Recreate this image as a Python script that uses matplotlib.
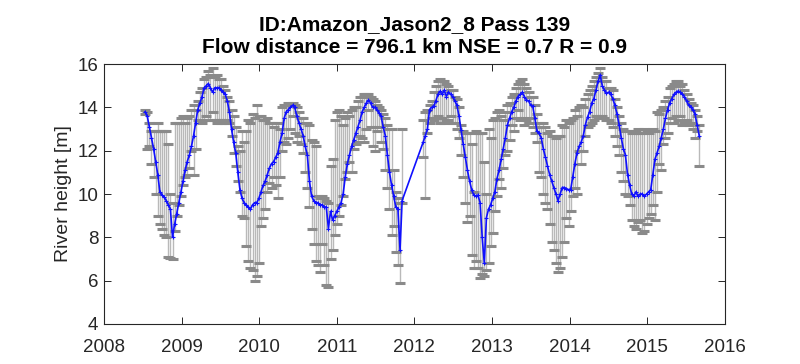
#!/usr/bin/env python3
"""Jason-2 virtual station time series with ensemble min/max error bars."""

import matplotlib
matplotlib.use('Agg')
import matplotlib.pyplot as plt
import numpy as np

# ---------------------------------------------------------------------------
# Data
# ---------------------------------------------------------------------------

# Jason-2 repeat cycles present at this station (gap end 2011 / early 2012)
cycles = list(range(1, 124)) + list(range(133, 265))
t_first = 2008.53          # decimal year of the first cycle
cycle_days = 9.9156        # Jason-2 repeat period

heights = [
    13.8, 13.6, 13.1, 12.6, 12.1, 11.5, 10.9, 10.1, 9.95, 9.85,
    9.7, 9.5, 9.3, 8.0, 8.6, 9.1, 9.6, 10.1, 10.6, 11.1,
    11.5, 11.8, 12.2, 12.7, 13.3, 13.9, 14.2, 14.5, 14.9, 15.0,
    15.1, 14.9, 14.7, 14.9, 14.9, 14.9, 14.8, 14.7, 14.6, 14.3,
    13.8, 13.0, 12.4, 11.9, 11.0, 10.2, 9.8, 9.6, 9.5, 9.4,
    9.3, 9.5, 9.6, 9.6, 9.8, 10.1, 10.4, 10.6, 10.9, 11.2,
    11.4, 11.5, 11.7, 11.9, 12.4, 12.8, 13.5, 13.8, 13.9, 14.0,
    14.1, 14.0, 13.6, 13.3, 13.0, 12.7, 12.2, 11.8, 10.6, 9.9,
    9.7, 9.6, 9.6, 9.5, 9.5, 9.4, 9.4, 8.4, 9.2, 8.8,
    9.0, 9.2, 9.4, 9.6, 10.0, 10.8, 11.4, 11.8, 12.2, 12.5,
    12.8, 13.1, 13.4, 13.8, 14.0, 14.2, 14.35, 14.2, 14.0, 14.0,
    13.9, 13.75, 13.6, 13.1, 12.7, 11.8, 11.0, 10.4, 9.9, 9.4,
    9.3, 7.4, 9.7,
    12.4, 12.7, 13.0, 13.9, 14.0, 14.05, 14.3, 14.6,
    14.75, 14.6, 14.8, 14.5, 14.7, 14.6, 14.5, 14.3, 14.1, 13.6,
    12.95, 12.3, 11.7, 11.1, 10.6, 10.2, 9.95, 9.9, 9.95, 9.6,
    8.0, 6.8, 8.9, 9.3, 9.5, 9.8, 10.1, 10.7, 11.1, 11.6,
    12.1, 12.6, 13.2, 13.5, 13.8, 14.0, 14.3, 14.5, 14.6, 14.7,
    14.5, 14.35, 14.3, 14.1, 14.05, 13.5, 12.9, 12.8, 12.6, 12.1,
    11.7, 11.3, 10.9, 10.6, 10.3, 10.0, 9.7, 10.0, 10.3, 10.3,
    10.25, 10.2, 10.2, 10.8, 11.4, 11.9, 12.2, 12.4, 12.7, 13.2,
    13.55, 13.8, 14.2, 14.4, 14.8, 15.2, 15.5, 15.0, 14.8, 14.65,
    14.7, 14.6, 14.4, 14.1, 13.7, 13.2, 12.6, 12.1, 11.8, 10.9,
    10.4, 10.0, 9.9, 10.1, 9.9, 10.0, 10.0, 9.9, 10.0, 10.1,
    10.2, 10.9, 11.6, 11.9, 12.2, 12.6, 13.0, 13.5, 13.9, 14.2,
    14.4, 14.6, 14.7, 14.75, 14.7, 14.6, 14.5, 14.3, 14.1, 14.0,
    13.9, 13.7, 13.2, 12.7,
]

h_max = [
    13.9, 13.8, 13.3, 12.9, 12.9, 12.9, 13.3, 12.9, 12.9, 12.9,
    12.9, 12.3, 10.0, 9.6, 13.3, 13.3, 13.3, 13.5, 13.6, 13.3,
    13.5, 13.6, 13.9, 14.1, 13.9, 14.3, 14.7, 14.9, 15.3, 15.4,
    15.7, 15.5, 15.8, 15.4, 15.5, 15.3, 15.3, 15.0, 14.8, 14.5,
    14.3, 13.9, 13.6, 13.1, 12.2, 12.0, 12.9, 12.4, 12.9, 13.4,
    13.3, 13.7, 13.5, 14.1, 13.6, 13.6, 13.4, 13.4, 13.5, 13.3,
    13.3, 13.1, 13.3, 13.3, 13.0, 14.0, 14.1, 14.1, 14.2, 14.1,
    14.2, 14.1, 14.0, 13.8, 13.5, 13.5, 13.3, 13.3, 13.2, 12.5,
    12.4, 12.2, 9.9, 9.8, 9.9, 9.8, 9.7, 9.6, 11.3, 11.6,
    13.4, 13.8, 13.9, 13.6, 13.2, 13.5, 13.8, 13.6, 13.9, 14.0,
    14.0, 14.3, 14.5, 14.5, 14.6, 14.6, 14.6, 14.5, 14.4, 14.3,
    14.1, 14.0, 13.9, 13.7, 13.5, 13.2, 13.0, 13.0, 11.1, 10.1,
    9.8, 9.6, 13.0,
    13.4, 13.8, 13.9, 14.1, 14.3, 14.7, 15.0, 15.2,
    15.3, 15.2, 15.2, 15.1, 15.0, 14.8, 14.8, 14.5, 14.4, 14.0,
    13.2, 12.9, 12.8, 12.8, 12.8, 12.3, 10.1, 12.9, 12.8, 12.8,
    12.8, 11.5, 10.0, 13.0, 12.6, 13.4, 13.5, 13.8, 13.9, 13.6,
    13.4, 13.8, 14.1, 14.2, 14.5, 14.6, 14.9, 15.1, 15.2, 15.3,
    15.1, 14.9, 14.7, 14.5, 14.5, 14.1, 13.7, 13.3, 13.1, 13.3,
    13.1, 12.8, 12.9, 12.7, 12.7, 12.6, 12.7, 12.7, 13.2, 13.1,
    13.4, 13.3, 13.4, 13.5, 13.9, 13.6, 14.0, 14.1, 14.0, 14.4,
    14.6, 14.8, 15.0, 15.2, 15.4, 15.6, 15.8, 15.4, 15.2, 15.2,
    14.9, 14.9, 14.8, 14.4, 14.0, 13.6, 13.3, 13.0, 12.9, 12.9,
    12.9, 12.8, 12.8, 12.9, 13.0, 12.8, 12.8, 13.0, 12.9, 12.8,
    12.9, 13.0, 12.9, 13.8, 13.7, 13.9, 14.0, 14.3, 14.5, 14.9,
    15.0, 15.1, 15.2, 15.2, 15.0, 15.1, 14.8, 14.6, 14.4, 14.2,
    14.1, 13.9, 13.6, 13.2,
]

h_min = [
    13.7, 12.1, 12.2, 11.4, 10.8, 10.0, 9.0, 8.6, 8.4, 8.1,
    8.0, 7.1, 7.05, 7.0, 8.3, 9.0, 9.5, 9.9, 10.4, 10.8,
    10.9, 11.2, 12.0, 10.9, 12.1, 13.4, 13.4, 13.3, 13.4, 13.6,
    13.4, 13.4, 13.8, 13.4, 13.3, 13.4, 13.3, 13.4, 13.3, 13.4,
    13.3, 12.7, 11.9, 11.3, 10.6, 10.1, 9.0, 8.9, 7.6, 6.9,
    6.6, 6.5, 6.0, 6.2, 6.8, 8.5, 8.9, 9.3, 10.1, 10.5,
    10.3, 10.8, 10.4, 9.8, 10.8, 12.0, 12.4, 12.3, 12.6, 13.0,
    13.6, 12.8, 12.4, 12.7, 12.3, 11.9, 11.0, 10.3, 9.4, 8.4,
    7.7, 6.9, 6.7, 6.4, 7.7, 6.7, 5.8, 5.7, 7.0, 7.4,
    8.1, 8.6, 9.0, 9.5, 9.9, 10.7, 11.0, 11.5, 11.0, 12.1,
    12.3, 12.4, 12.7, 12.6, 12.4, 13.0, 13.9, 13.1, 12.2, 12.0,
    12.9, 13.1, 12.4, 12.1, 11.1, 10.3, 9.3, 8.1, 8.5, 7.3,
    6.7, 5.9, 9.6,
    11.7, 9.8, 12.8, 13.3, 13.5, 13.4, 13.5, 13.6,
    13.3, 13.5, 13.3, 13.4, 13.4, 13.6, 13.3, 13.3, 13.0, 12.6,
    11.8, 10.8, 9.6, 8.7, 9.0, 7.2, 6.6, 6.9, 6.6, 6.1,
    6.3, 6.2, 6.5, 6.8, 7.6, 8.2, 9.2, 9.9, 10.7, 10.3,
    11.2, 11.8, 12.0, 12.5, 13.2, 12.9, 13.5, 13.9, 13.4, 13.5,
    13.2, 13.4, 13.3, 13.5, 13.1, 12.8, 12.4, 11.0, 10.8, 10.0,
    9.6, 9.3, 8.6, 7.8, 7.4, 6.8, 6.4, 6.6, 7.1, 7.8,
    8.9, 8.5, 9.2, 9.9, 10.3, 10.0, 12.0, 11.4, 12.0, 12.7,
    13.1, 13.2, 13.3, 13.4, 13.6, 13.5, 13.6, 13.6, 13.5, 13.4,
    13.4, 13.3, 13.1, 12.7, 12.2, 11.8, 11.0, 10.6, 10.0, 9.9,
    9.5, 8.8, 8.5, 8.4, 8.7, 8.8, 8.2, 8.3, 8.6, 8.9,
    9.1, 9.5, 8.8, 10.1, 11.4, 11.1, 12.3, 12.6, 12.8, 13.3,
    13.5, 13.3, 13.6, 13.4, 13.6, 13.2, 13.3, 13.4, 13.2, 13.3,
    13.0, 12.6, 12.9, 11.3,
]

station = 'Amazon_Jason2_8'
pass_no = 139
flow_dist_km = 796.1
nse = 0.7
corr = 0.9

x_ticks = list(range(2008, 2017))
y_ticks = list(range(4, 17, 2))


# ---------------------------------------------------------------------------
# Plot
# ---------------------------------------------------------------------------

def main():
    plt.rcParams['font.family'] = ['Liberation Sans', 'DejaVu Sans']

    t = t_first + (np.array(cycles) - 1) * cycle_days / 365.25
    h = np.array(heights)
    lo = np.clip(h - np.array(h_min), 0, None)
    hi = np.clip(np.array(h_max) - h, 0, None)

    fig = plt.figure(figsize=(8.0, 3.64), dpi=100)
    ax = fig.add_axes([0.13, 0.11, 0.776, 0.714])

    _, caps, bars = ax.errorbar(t, h, yerr=[lo, hi], fmt='none',
                                ecolor='#b9b9b9', elinewidth=1.0,
                                capsize=3.4, capthick=2.2, zorder=2)
    for c in caps:
        c.set_markeredgecolor('#8a8a8a')
        c.set_markerfacecolor('#8a8a8a')
    ax.plot(t, h, color='#1010ff', linewidth=1.2, marker='+',
            markersize=2.5, markeredgewidth=0.8, zorder=3)

    ax.set_xlim(2008, 2016)
    ax.set_ylim(4, 16)
    ax.set_xticks(x_ticks)
    ax.set_yticks(y_ticks)
    ax.tick_params(direction='in', length=5, width=0.7, colors='#262626',
                   labelsize=13.5, top=True, right=True, pad=4)
    ax.tick_params(axis='x', pad=11)
    for s in ax.spines.values():
        s.set_color('#262626')
        s.set_linewidth(0.8)

    ax.set_ylabel('River height [m]', fontsize=14, color='#262626', labelpad=4)
    ax.set_title(f'ID:{station} Pass {pass_no}\n'
                 f'Flow distance = {flow_dist_km} km NSE = {nse} R = {corr}',
                 fontsize=15, fontweight='bold', pad=8, linespacing=1.25)

    fig.savefig('out.png', dpi=100)
    plt.close(fig)


if __name__ == '__main__':
    main()
